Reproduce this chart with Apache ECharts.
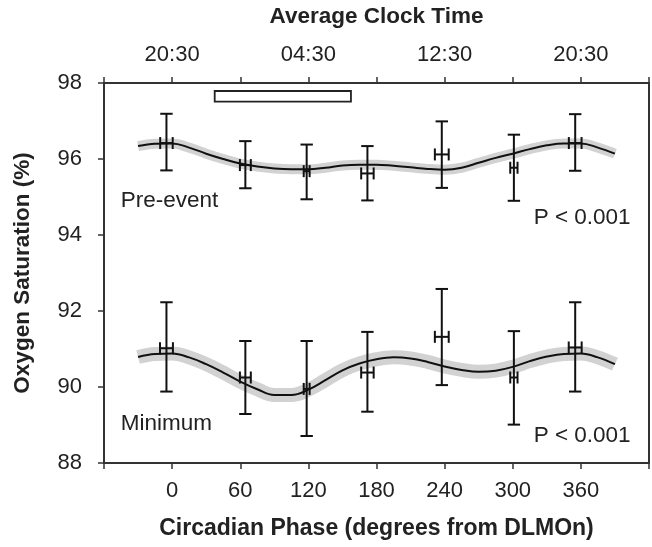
<!DOCTYPE html>
<html>
<head>
<meta charset="utf-8">
<script src="https://cdn.jsdelivr.net/npm/echarts@6/dist/echarts.min.js"></script>
<style>
html,body{margin:0;padding:0;background:#fff;}
#chart{width:652px;height:547px;}
</style>
</head>
<body>
<div id="chart"></div>
<script>
// ---- data ----
const phase = [-5, 64.5, 118.5, 172, 237.5, 301, 355];
const prePhaseErr = [5.5, 4.8, 2.6, 5.5, 6.1, 3.2, 5.6];
const preMean = [96.42, 95.84, 95.68, 95.62, 96.12, 95.77, 96.42];
const preLow  = [95.70, 95.23, 94.94, 94.91, 95.24, 94.90, 95.69];
const preHigh = [97.19, 96.47, 96.38, 96.34, 96.99, 96.64, 97.18];

const minPhaseErr = [5.7, 4.8, 2.6, 5.5, 6.1, 3.2, 5.7];
const minMean = [91.02, 90.25, 89.95, 90.38, 91.32, 90.25, 91.04];
const minLow  = [89.88, 89.29, 88.71, 89.35, 90.05, 89.01, 89.88];
const minHigh = [92.23, 91.21, 91.21, 91.45, 92.58, 91.47, 92.23];

const fitPhase = [-30,-15,0,15,30,45,60,75,90,105,120,135,150,165,180,195,210,225,240,255,270,285,300,315,330,345,360,375,390];
const preFit = [96.34,96.40,96.41,96.30,96.14,96.00,95.88,95.80,95.75,95.73,95.73,95.77,95.83,95.85,95.85,95.82,95.78,95.74,95.72,95.77,95.90,96.03,96.14,96.26,96.36,96.41,96.41,96.30,96.14];
const minFit = [90.79,90.87,90.88,90.78,90.60,90.38,90.14,89.94,89.79,89.79,89.93,90.18,90.44,90.62,90.73,90.78,90.75,90.66,90.54,90.45,90.40,90.43,90.53,90.68,90.80,90.87,90.88,90.78,90.60];

const bottomTicks = [0, 60, 120, 180, 240, 300, 360];
const topTickPos = [0, 120, 240, 360];
const topTickLabels = ['20:30', '04:30', '12:30', '20:30'];
const sleepPhase = [37.5, 157.5];
const sleepLevel = [97.51, 97.79];

const annotations = [
  {text: 'Pre-event', x: -45.2, y: 94.89, align: 'left'},
  {text: 'Minimum', x: -45.2, y: 89.04, align: 'left'},
  {text: 'P < 0.001', x: 403.8, y: 94.46, align: 'right'},
  {text: 'P < 0.001', x: 403.8, y: 88.72, align: 'right'}
];

// ---- build ----
const FONT = '"Liberation Sans", Arial, sans-serif';
const TXT = '#222';
const AX = '#333';

function pairs(xs, ys) { return xs.map((x, i) => [x, ys[i]]); }
function errData(err, mean, lo, hi) {
  return phase.map((p, i) => [p, mean[i], err[i], lo[i], hi[i]]);
}

function renderErr(params, api) {
  const x = api.value(0), y = api.value(1), xe = api.value(2), lo = api.value(3), hi = api.value(4);
  const top = api.coord([x, hi]);
  const bot = api.coord([x, lo]);
  const l = api.coord([x - xe, y]);
  const r = api.coord([x + xe, y]);
  const cw = 6.2, ch = 6;
  const st = {stroke: '#111', lineWidth: 2, fill: null};
  const seg = (x1, y1, x2, y2) => ({type: 'line', shape: {x1, y1, x2, y2}, style: st});
  return {
    type: 'group',
    children: [
      seg(top[0], top[1], bot[0], bot[1]),
      seg(top[0] - cw, top[1], top[0] + cw, top[1]),
      seg(bot[0] - cw, bot[1], bot[0] + cw, bot[1]),
      seg(l[0], l[1], r[0], r[1]),
      seg(l[0], l[1] - ch, l[0], l[1] + ch),
      seg(r[0], r[1] - ch, r[0], r[1] + ch)
    ]
  };
}

const chart = echarts.init(document.getElementById('chart'), null, {renderer: 'canvas'});

const option = {
  animation: false,
  backgroundColor: '#fff',
  grid: {left: 104, right: 1.5, top: 81, bottom: 84, show: true, borderColor: AX, borderWidth: 2, backgroundColor: 'transparent'},
  xAxis: [
    {
      type: 'value', position: 'bottom', min: -60, max: 420, interval: 60,
      name: 'Circadian Phase (degrees from DLMOn)', nameLocation: 'middle', nameGap: 54,
      nameTextStyle: {fontFamily: FONT, fontSize: 23, fontWeight: 'bold', color: TXT},
      axisLine: {show: true, onZero: false, lineStyle: {color: AX, width: 2}},
      axisTick: {show: true, inside: false, length: 6, lineStyle: {color: AX, width: 1.5}},
      axisLabel: {
        margin: 17, fontFamily: FONT, fontSize: 22, color: TXT,
        formatter: v => bottomTicks.indexOf(v) >= 0 ? String(v) : ''
      },
      splitLine: {show: false}
    },
    {
      type: 'value', position: 'top', min: -60, max: 420, interval: 60,
      name: 'Average Clock Time', nameLocation: 'middle', nameGap: 55,
      nameTextStyle: {fontFamily: FONT, fontSize: 22.5, fontWeight: 'bold', color: TXT},
      axisLine: {show: true, onZero: false, lineStyle: {color: AX, width: 2}},
      axisTick: {show: true, inside: false, length: 6, lineStyle: {color: AX, width: 1.5}},
      axisLabel: {
        margin: 17, fontFamily: FONT, fontSize: 22, color: TXT,
        formatter: v => { const k = topTickPos.indexOf(v); return k >= 0 ? topTickLabels[k] : ''; }
      },
      splitLine: {show: false}
    }
  ],
  yAxis: {
    type: 'value', min: 88, max: 98, interval: 2,
    name: 'Oxygen Saturation (%)', nameLocation: 'middle', nameGap: 70,
    nameTextStyle: {fontFamily: FONT, fontSize: 22.5, fontWeight: 'bold', color: TXT},
    axisLine: {show: true, onZero: false, lineStyle: {color: AX, width: 2}},
    axisTick: {show: true, inside: false, length: 6, lineStyle: {color: AX, width: 1.5}},
    axisLabel: {margin: 22, fontFamily: FONT, fontSize: 22, color: TXT},
    splitLine: {show: false}
  },
  series: [
    {
      type: 'line', name: 'sleep', data: [], silent: true,
      markArea: {
        silent: true,
        itemStyle: {color: '#fff', borderColor: '#222', borderWidth: 1.8},
        data: [[{coord: [sleepPhase[0], sleepLevel[1]]}, {coord: [sleepPhase[1], sleepLevel[0]]}]]
      }
    },
    {type: 'line', data: pairs(fitPhase, preFit), smooth: 0.4, showSymbol: false, silent: true,
     lineStyle: {color: '#d2d2d2', width: 10, cap: 'butt'}, z: 2},
    {type: 'line', data: pairs(fitPhase, minFit), smooth: 0.4, showSymbol: false, silent: true,
     lineStyle: {color: '#d2d2d2', width: 14, cap: 'butt'}, z: 2},
    {type: 'line', data: pairs(fitPhase, preFit), smooth: 0.4, showSymbol: false, silent: true,
     lineStyle: {color: '#111', width: 2}, z: 3},
    {type: 'line', data: pairs(fitPhase, minFit), smooth: 0.4, showSymbol: false, silent: true,
     lineStyle: {color: '#111', width: 2}, z: 3},
    {type: 'custom', renderItem: renderErr, data: errData(prePhaseErr, preMean, preLow, preHigh), z: 4, silent: true},
    {type: 'custom', renderItem: renderErr, data: errData(minPhaseErr, minMean, minLow, minHigh), z: 4, silent: true}
  ]
};
chart.setOption(option);

const g = annotations.map(a => {
  const p = chart.convertToPixel({gridIndex: 0}, [a.x, a.y]);
  return {
    type: 'text', x: p[0], y: p[1], silent: true, z: 10,
    style: {text: a.text, fontFamily: FONT, fontSize: 22.5, fill: TXT, align: a.align, verticalAlign: 'middle'}
  };
});
chart.setOption({graphic: g});
</script>
</body>
</html>
